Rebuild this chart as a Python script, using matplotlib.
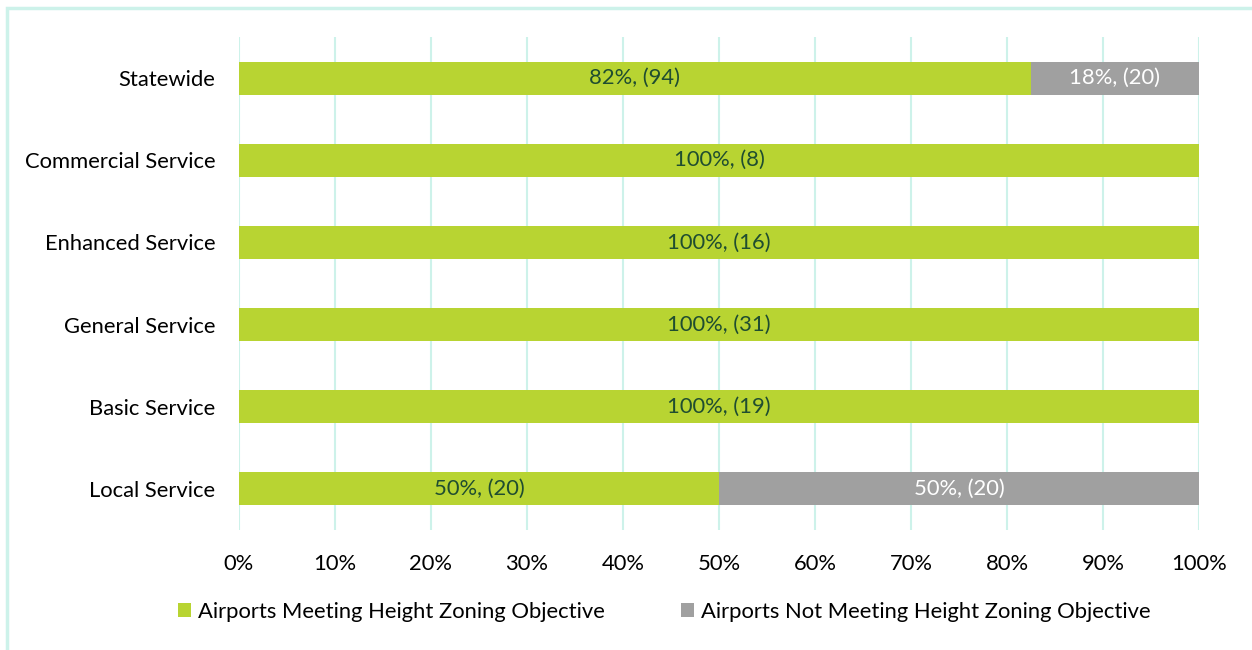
import matplotlib.pyplot as plt
from matplotlib.patches import Rectangle
import numpy as np

plt.rcParams['font.family'] = ['Lato', 'DejaVu Sans']

categories = ['Statewide', 'Commercial Service', 'Enhanced Service',
              'General Service', 'Basic Service', 'Local Service']
meeting = [94, 8, 16, 31, 19, 20]
not_meeting = [20, 0, 0, 0, 0, 20]
meet_labels = ['82%, (94)', '100%, (8)', '100%, (16)', '100%, (31)', '100%, (19)', '50%, (20)']
not_labels = ['18%, (20)', '', '', '', '', '50%, (20)']

green = '#B8D432'
gray = '#A0A0A0'
grid_col = '#CDF2EA'
fs = 15.8

fig = plt.figure(figsize=(12.52, 6.5), dpi=100)
ax = fig.add_axes([239/1252, 1-530/650, 960/1252, 493/650])

# outer frame (top and left visible)
fig.patches.append(Rectangle((7/1252, -0.5), 2, 1.5 - 8/650, transform=fig.transFigure,
                             fill=False, edgecolor=grid_col, lw=2.5))

meeting = np.array(meeting, dtype=float)
not_meeting = np.array(not_meeting, dtype=float)
total = meeting + not_meeting
p_meet = meeting / total
p_not = not_meeting / total
y = np.arange(len(categories))

ax.barh(y, p_meet, height=0.4, color=green, zorder=3,
        label='Airports Meeting Height Zoning Objective')
ax.barh(y, p_not, left=p_meet, height=0.4, color=gray, zorder=3,
        label='Airports Not Meeting Height Zoning Objective')

for i in range(len(categories)):
    ax.text(p_meet[i] / 2, y[i], meet_labels[i], ha='center', va='center',
            fontsize=fs, color='#1F4D30', zorder=4)
    if p_not[i] > 0:
        ax.text(p_meet[i] + p_not[i] / 2, y[i], not_labels[i], ha='center', va='center',
                fontsize=fs, color='white', zorder=4)

ax.set_xlim(0, 1)
ax.set_ylim(len(categories) - 0.5, -0.5)
ax.set_xticks(np.arange(0, 1.01, 0.1))
ax.set_xticklabels([f'{int(round(v*100))}%' for v in np.arange(0, 1.01, 0.1)])
ax.set_yticks(y)
ax.set_yticklabels(categories)
ax.tick_params(axis='both', length=0, labelsize=fs, colors='black')
ax.tick_params(axis='x', pad=17)
ax.tick_params(axis='y', pad=17)
ax.grid(axis='x', color=grid_col, lw=1.5, zorder=0)
for s in ax.spines.values():
    s.set_visible(False)

ax.legend(loc='upper center', bbox_to_anchor=(0.443, -0.105), ncol=2, frameon=False,
          fontsize=fs, handlelength=0.6, handleheight=0.6, handletextpad=0.3,
          columnspacing=3.5)

fig.savefig('out.png', dpi=100)
